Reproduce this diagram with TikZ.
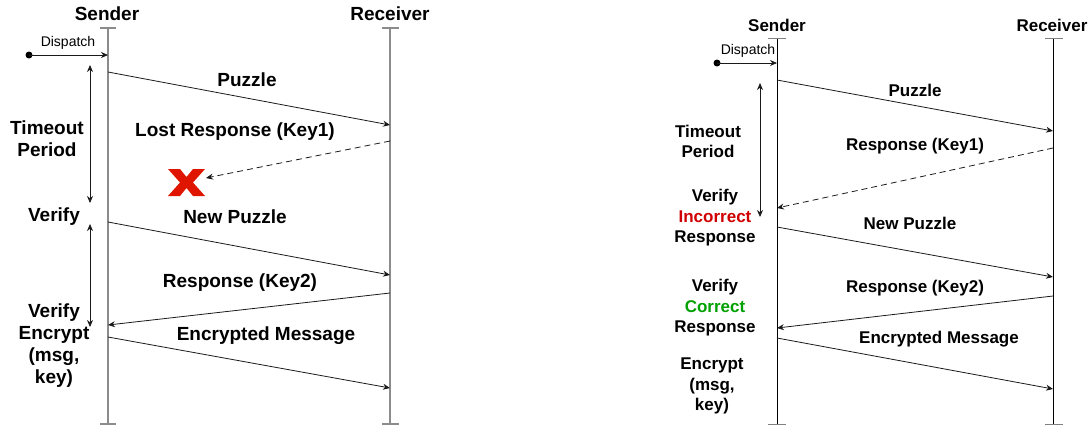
\documentclass[tikz,border=0pt]{standalone}
\usepackage{fontspec}
\setmainfont{Liberation Sans}
\usetikzlibrary{arrows.meta}
\definecolor{lifegray}{HTML}{8C8C8C}
\definecolor{msgline}{HTML}{1A1A1A}
\definecolor{xred}{HTML}{E01500}
\definecolor{badred}{HTML}{D00000}
\definecolor{goodgreen}{HTML}{00A000}
\begin{document}
\begin{tikzpicture}[x=1pt,y=-1pt,
  lifeA/.style={draw=lifegray,line width=1.6pt},
  lifeB/.style={draw=black,line width=1pt},
  msg/.style={draw=msgline,line width=0.8pt,-{Stealth[length=7pt,width=6pt]}},
  lostmsg/.style={msg,dash pattern=on 6pt off 4pt},
  period/.style={draw=msgline,line width=0.8pt,{Stealth[length=7pt,width=6pt]}-{Stealth[length=7pt,width=6pt]}},
  lblA/.style={font=\fontsize{19}{22}\selectfont\bfseries,align=center,inner sep=0pt},
  lblB/.style={font=\fontsize{17}{20.5}\selectfont\bfseries,align=center,inner sep=0pt},
  small/.style={font=\fontsize{14}{16}\selectfont,inner sep=0pt},
  startdot/.style={circle,fill=black,minimum size=7pt,inner sep=0pt},
]
\useasboundingbox (0,0) rectangle (1092,429);

% ---------------- first exchange: lost response ----------------
\coordinate (sA1) at (108,28);  \coordinate (sA2) at (108,424);
\coordinate (rA1) at (390,28);  \coordinate (rA2) at (390,424);
\draw[lifeA] (sA1) -- (sA2);
\draw[lifeA] (100,28) -- (116,28);
\draw[lifeA] (100,424) -- (116,424);
\draw[lifeA] (rA1) -- (rA2);
\draw[lifeA] (382,28) -- (399,28);
\draw[lifeA] (382,424) -- (399,424);

\node[lblA] (senderA) at (107,14) {Sender};
\node[lblA] (receiverA) at (390,14) {Receiver};

\node[startdot] (dotA) at (29,55) {};
\coordinate (dA) at (108,55);
\draw[msg] (dotA.center) -- (dA);
\node[small] (dispA) at (68,43) {Dispatch};

\coordinate (tA1) at (90,65);  \coordinate (tA2) at (90,203);
\coordinate (tA3) at (90,224); \coordinate (tA4) at (90,327);
\draw[period] (tA1) -- (tA2);
\draw[period] (tA3) -- (tA4);

\node[lblA] (timeoutA) at (47,138.5) {Timeout\\Period};
\node[lblA] (verifyA) at (54,217) {Verify};
\node[lblA] (encA) at (54,346) {Verify\\Encrypt\\(msg,\\key)};

\coordinate (pA1) at (108,72);  \coordinate (pA2) at (390,125);
\draw[msg] (pA1) -- (pA2);
\node[lblA] (puzzleA) at (247,80) {Puzzle};

\node[lblA] (lostA) at (235,132) {Lost Response (Key1)};
\coordinate (lA1) at (390,141); \coordinate (lA2) at (206,178);
\draw[lostmsg] (lA1) -- (lA2);

\fill[xred] (168,169) -- (180,169) -- (186.5,177) -- (193,169) -- (205,169)
  -- (193,182.5) -- (205,196) -- (193,196) -- (186.5,188) -- (180,196)
  -- (168,196) -- (180,182.5) -- cycle;

\node[lblA] (newpA) at (235,217) {New Puzzle};
\coordinate (nA1) at (108,222); \coordinate (nA2) at (390,275);
\draw[msg] (nA1) -- (nA2);

\node[lblA] (respA) at (240,283) {Response (Key2)};
\coordinate (kA1) at (390,293); \coordinate (kA2) at (108,325);
\draw[msg] (kA1) -- (kA2);

\node[lblA] (encmA) at (266,336) {Encrypted Message};
\coordinate (eA1) at (108,337); \coordinate (eA2) at (390,388);
\draw[msg] (eA1) -- (eA2);

% ---------------- second exchange: incorrect response ----------------
\coordinate (sB1) at (777,38);  \coordinate (sB2) at (777,424);
\coordinate (rB1) at (1053,38); \coordinate (rB2) at (1053,424);
\draw[lifeB] (sB1) -- (sB2);
\draw[lifeB,draw=gray] (768,38) -- (786,38);
\draw[lifeB,draw=gray] (768,424) -- (786,424);
\draw[lifeB] (rB1) -- (rB2);
\draw[lifeB,draw=gray] (1045,38) -- (1063,38);
\draw[lifeB,draw=gray] (1045,424) -- (1063,424);

\node[lblB] (senderB) at (777,25) {Sender};
\node[lblB] (receiverB) at (1052,25) {Receiver};

\node[startdot] (dotB) at (717,63) {};
\coordinate (dB) at (777,63);
\draw[msg] (dotB.center) -- (dB);
\node[small] (dispB) at (748,51) {Dispatch};

\coordinate (tB1) at (760,83); \coordinate (tB2) at (760,217);
\draw[period] (tB1) -- (tB2);

\node[lblB] (timeoutB) at (708,141.5) {Timeout\\Period};
\node[lblB] (verifyB1) at (715,218) {Verify\\\textcolor{badred}{Incorrect}\\Response};
\node[lblB] (verifyB2) at (715,308) {Verify\\\textcolor{goodgreen}{Correct}\\Response};
\node[lblB] (encB) at (712,386) {Encrypt\\(msg,\\key)};

\coordinate (pB1) at (777,80);  \coordinate (pB2) at (1053,131);
\draw[msg] (pB1) -- (pB2);
\node[lblB] (puzzleB) at (915,90) {Puzzle};

\node[lblB] (respB1) at (915,146) {Response (Key1)};
\coordinate (lB1) at (1053,148); \coordinate (lB2) at (777,208);
\draw[lostmsg] (lB1) -- (lB2);

\node[lblB] (newpB) at (910,223) {New Puzzle};
\coordinate (nB1) at (777,227); \coordinate (nB2) at (1053,277);
\draw[msg] (nB1) -- (nB2);

\node[lblB] (respB2) at (915,288) {Response (Key2)};
\coordinate (kB1) at (1053,296); \coordinate (kB2) at (777,328);
\draw[msg] (kB1) -- (kB2);

\node[lblB] (encmB) at (939,339) {Encrypted Message};
\coordinate (eB1) at (777,338); \coordinate (eB2) at (1053,389);
\draw[msg] (eB1) -- (eB2);
\end{tikzpicture}
\end{document}
